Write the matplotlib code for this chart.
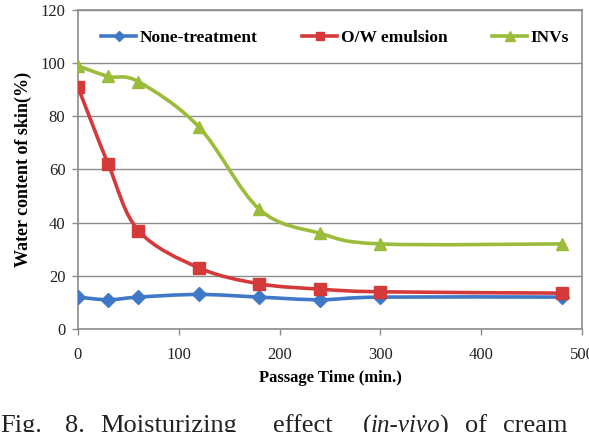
import numpy as np
import matplotlib.pyplot as plt
from matplotlib.path import Path
from matplotlib.patches import PathPatch
from matplotlib.lines import Line2D

plt.rcParams['font.family'] = ['Liberation Serif', 'DejaVu Serif']

# data
time_min = [0, 30, 60, 120, 180, 240, 300, 480]
none_treat = [12, 11, 12, 13, 12, 11, 12, 12]
ow_emulsion = [91, 62, 37, 23, 17, 15, 14, 13.5]
invs = [99, 95, 93, 76, 45, 36, 32, 32]

series = [
    ('None-treatment', none_treat, '#3E78C6', 'D', 7),
    ('O/W emulsion', ow_emulsion, '#D43A3A', 's', 8),
    ('INVs', invs, '#9BBB3A', '^', 9),
]


def smooth_path(x, y):
    # Excel-style smoothed line drawn as cubic bezier segments
    pts = np.column_stack([x, y]).astype(float)
    n = len(pts)
    verts = [pts[0]]
    codes = [Path.MOVETO]
    for i in range(n - 1):
        p0 = pts[i - 1] if i > 0 else pts[i]
        p1 = pts[i]
        p2 = pts[i + 1]
        p3 = pts[i + 2] if i + 2 < n else pts[i + 1]
        c1 = p1 + (p2 - p0) / 6
        c2 = p2 - (p3 - p1) / 6
        verts += [c1, c2, p2]
        codes += [Path.CURVE4] * 3
    return Path(verts, codes)


fig = plt.figure(figsize=(5.89, 4.32), dpi=100)
ax = fig.add_axes([0.1324, 0.2384, 0.8557, 0.7386])

for label, vals, col, mk, ms in series:
    ax.add_patch(PathPatch(smooth_path(time_min, vals), fill=False,
                           edgecolor=col, lw=2.6, zorder=3))
    ax.plot(time_min, vals, linestyle='none', marker=mk, ms=ms,
            color=col, zorder=4)

ax.set_xlim(0, 500)
ax.set_ylim(0, 120)
ax.set_xticks(range(0, 501, 100))
ax.set_yticks(range(0, 121, 20))
ax.yaxis.grid(True, color='#8c8c8c', lw=1)
ax.set_axisbelow(True)
for s in ax.spines.values():
    s.set_color('#8c8c8c')
    s.set_linewidth(1.2)
ax.tick_params(axis='both', colors='#8c8c8c', labelcolor='#222222',
               labelsize=12, length=4, width=1)
ax.tick_params(axis='x', pad=9)
ax.tick_params(axis='y', pad=5)

handles = [Line2D([], [], color=c, marker=m, ms=ms * 0.8, lw=2.6)
           for _, _, c, m, ms in series]
ax.legend(handles, [s[0] for s in series], loc='upper center',
          bbox_to_anchor=(0.51, 0.985), ncol=3, frameon=False,
          prop={'weight': 'bold', 'size': 12.5}, handlelength=2.0,
          handletextpad=0.2, columnspacing=2.6)

ax.set_xlabel('Passage Time (min.)', fontsize=12, fontweight='bold', labelpad=5)
ax.set_ylabel('Water content of skin(%)', fontsize=13, fontweight='bold', labelpad=6)

# caption (justified across the width, cut off at the bottom like the source)
cap_y = 1 - 415 / 432
caption = [('Fig.', 0), ('8.', 65), ('Moisturizing', 100), ('effect', 273),
           ('(', 363), ('of', 465), ('cream', 503)]
for word, px in caption:
    fig.text(px / 589, cap_y, word, fontsize=19, va='top',
             ha='left', color='#222222')
    if word == '(':
        fig.text(371 / 589, cap_y, 'in-vivo', fontsize=18, va='top',
                 ha='left', fontstyle='italic', color='#222222')
        fig.text(439 / 589, cap_y, ')', fontsize=19, va='top',
                 ha='left', color='#222222')

fig.savefig('out.png', dpi=100)
